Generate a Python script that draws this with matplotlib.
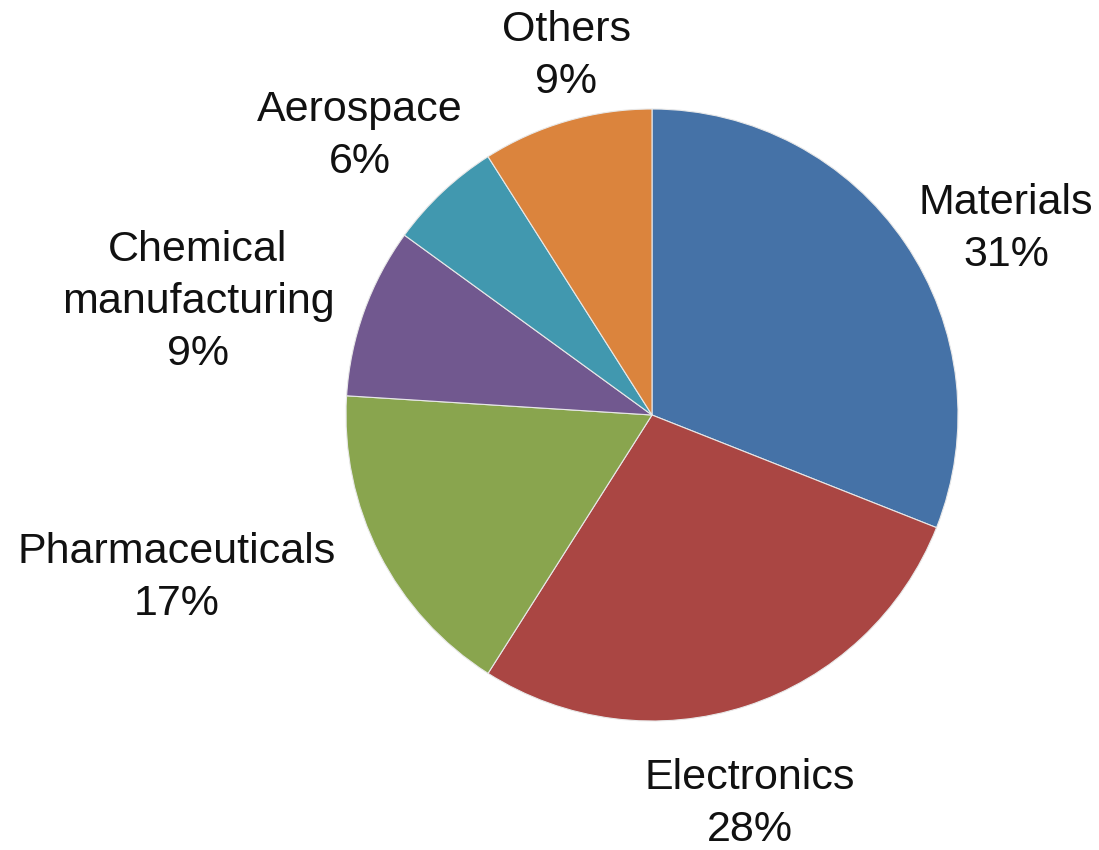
import matplotlib.pyplot as plt

# Share of applications by sector (percent)
sectors = ["Materials", "Electronics", "Pharmaceuticals",
           "Chemical\nmanufacturing", "Aerospace", "Others"]
shares = [31, 28, 17, 9, 6, 9]
colors = ["#4572A7", "#AA4643", "#89A54E", "#71588F", "#4198AF", "#DB843D"]

# label anchor points in figure pixels (x from left, y from top)
label_xy = [(1006, 229), (750, 804), (177, 578),
            (198, 302), (360, 136), (566, 56)]

W, H = 1099, 850
plt.rcParams["font.family"] = ["Liberation Sans", "DejaVu Sans"]

fig = plt.figure(figsize=(W / 100, H / 100), dpi=100)
ax = fig.add_axes([0, 0, 1, 1])

ax.pie(
    shares,
    colors=colors,
    startangle=90,
    counterclock=False,
    center=(652, H - 415),
    radius=306,
    wedgeprops=dict(edgecolor="#e8e8e8", linewidth=0.8),
)

for name, val, (x, y) in zip(sectors, shares, label_xy):
    ax.text(x, H - y, f"{name}\n{val}%", ha="center", va="center",
            fontsize=31, linespacing=1.4, color="#111111")

ax.set_xlim(0, W)
ax.set_ylim(0, H)
ax.set_aspect("equal")
ax.axis("off")

fig.savefig("out.png", dpi=100)
